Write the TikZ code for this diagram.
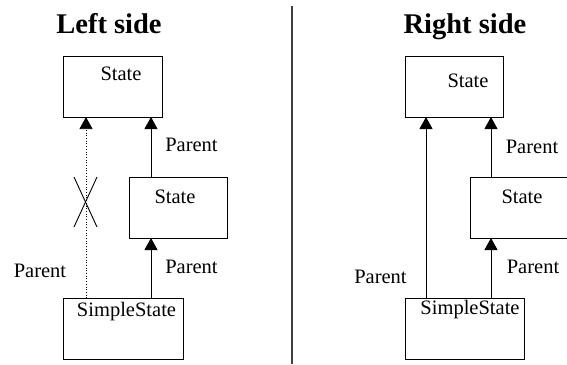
\documentclass[tikz,border=0pt]{standalone}
\usepackage{fontspec}
\setmainfont{Liberation Serif}
\usetikzlibrary{arrows.meta}

\tikzset{
  box/.style={draw=black, line width=0.9pt, outer sep=0pt, inner sep=0pt, anchor=north west},
  lbl/.style={font=\fontsize{20.5}{22}\selectfont, inner sep=0pt, anchor=base},
  title/.style={font=\fontsize{28.5}{30}\selectfont\bfseries, inner sep=0pt, anchor=base},
  arr/.style={line width=0.9pt, -{Triangle[width=13pt,length=12pt]}},
  dotarr/.style={line width=0.7pt, dotted, -{Triangle[width=13pt,length=12pt]}},
  cross/.style={line width=0.9pt},
  divider/.style={line width=2pt, draw=black!75}
}

\begin{document}
\begin{tikzpicture}[x=1pt, y=-1pt]
  \clip (0,0) rectangle (567,364);

  % column titles and separator
  \node[title] (tL) at (109,33) {Left side};
  \node[title] (tR) at (465,33) {Right side};
  \coordinate (divTop) at (292,6);
  \coordinate (divBot) at (292,364);
  \draw[divider] (divTop) -- (divBot);

  % ---- left column ----
  \node[box, minimum width=99pt, minimum height=61pt] (topL) at (63,56) {};
  \node[box, minimum width=98pt, minimum height=61pt] (midL) at (129,177) {};
  \node[box, minimum width=120pt, minimum height=61pt] (ssL) at (63,298) {};

  \node[lbl] (topLtxt) at (121,80) {State};
  \node[lbl] (midLtxt) at (175,203) {State};
  \node[lbl] (ssLtxt) at (126.5,316) {SimpleState};

  % direct parent link, crossed out
  \draw[dotarr] ([xshift=23pt]ssL.north west) -- ([xshift=23pt]topL.south west);
  \coordinate (xa) at (74,177);
  \coordinate (xb) at (97,227);
  \coordinate (xc) at (97,177);
  \coordinate (xd) at (74,227);
  \draw[cross] (xa) -- (xb);
  \draw[cross] (xc) -- (xd);

  % chain of parents
  \draw[arr] ([xshift=22pt]midL.north west) -- ([xshift=88pt]topL.south west);
  \draw[arr] ([xshift=88pt]ssL.north west) -- ([xshift=22pt]midL.south west);

  \node[lbl] (pL1) at (191.5,151) {Parent};
  \node[lbl] (pL2) at (191.5,273) {Parent};
  \node[lbl] (pL3) at (40,277) {Parent};

  % ---- right column ----
  \node[box, minimum width=98pt, minimum height=61pt] (topR) at (405,56) {};
  \node[box, minimum width=110pt, minimum height=61pt] (midR) at (470,177) {};
  \node[box, minimum width=119pt, minimum height=61pt] (ssR) at (405,298) {};

  \node[lbl] (topRtxt) at (468,87) {State};
  \node[lbl] (midRtxt) at (522,203) {State};
  \node[lbl] (ssRtxt) at (470,314) {SimpleState};

  % direct parent link
  \draw[arr] ([xshift=21pt]ssR.north west) -- ([xshift=21pt]topR.south west);
  % chain of parents
  \draw[arr] ([xshift=21pt]midR.north west) -- ([xshift=86pt]topR.south west);
  \draw[arr] ([xshift=86pt]ssR.north west) -- ([xshift=21pt]midR.south west);

  \node[lbl] (pR1) at (532,153) {Parent};
  \node[lbl] (pR2) at (533,273) {Parent};
  \node[lbl] (pR3) at (380.5,283) {Parent};
\end{tikzpicture}
\end{document}
